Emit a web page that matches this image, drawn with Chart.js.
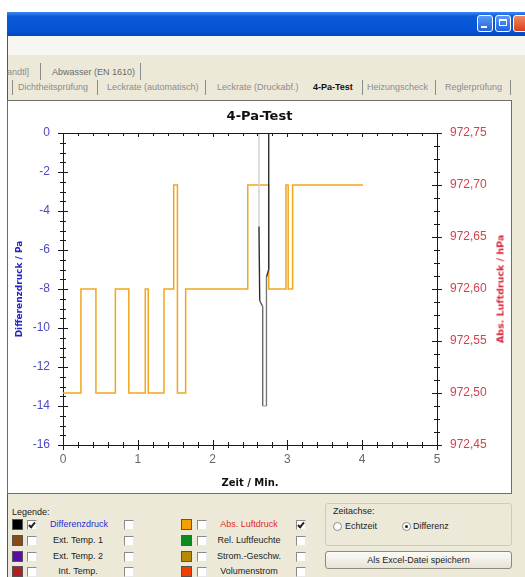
<!DOCTYPE html>
<html>
<head>
<meta charset="utf-8">
<script src="https://cdn.jsdelivr.net/npm/chart.js@4.4.1/dist/chart.umd.min.js"></script>
<style>
  body { margin: 0; width: 525px; height: 577px; overflow: hidden; background: #fff; position: relative;
         font-family: "Liberation Sans", Arial, sans-serif; }
  .abs { position: absolute; }
  .win { left: 7px; top: 36px; width: 518px; height: 541px; background: #ece9d8; border-left: 1px solid #555; box-sizing: border-box; }
  .menu { left: 8px; top: 36px; width: 517px; height: 19px; background: #f7f6f1; }
  .titlebar { left: 7px; top: 12px; width: 518px; height: 24px;
              background: linear-gradient(to bottom, #3d8af2 0%, #0a5ad8 18%, #0653d6 80%, #0445b8 100%); }
  .tbtn { top: 15px; width: 16px; height: 17px; box-sizing: border-box; border: 1px solid #fff; border-radius: 3px;
          background: linear-gradient(to bottom, #5b9af8, #2462e0); }
  .tbtn.close { background: linear-gradient(to bottom, #f08a60, #d8401c); }
  .tab { font-size: 9px; color: #8c8c8c; white-space: nowrap; line-height: 11px; }
  .sep { width: 1px; background: #8a8a8a; }
  .panel { left: 7px; top: 100px; width: 505px; height: 394px; box-sizing: border-box; border: 1px solid #6e6e6e; background: #fff; }
  #wrap { left: 8px; top: 100px; width: 503px; height: 392px; }
  .rtitle { left: 500px; top: 289px; transform: translate(-50%, -50%) rotate(-90deg); white-space: nowrap;
            font: bold 9.5px "DejaVu Sans", sans-serif; color: #d8283a; }
  .lg { font-size: 9px; line-height: 13px; color: #222; white-space: nowrap; }
  .sw { width: 11px; height: 11px; box-sizing: border-box; border: 1px solid #555; }
  .cb { width: 10px; height: 10px; box-sizing: border-box; background: #fff; border: 1px solid; border-color: #8a8a8a #e8e8e8 #e8e8e8 #8a8a8a; }
  .cb.on::after { content: ""; position: absolute; left: 2px; top: 0px; width: 2px; height: 5px;
                  border: solid #222; border-width: 0 2px 2px 0; transform: rotate(40deg); }
  .rb { width: 9px; height: 9px; box-sizing: border-box; border-radius: 50%; border: 1px solid #8a8a8a; background: #fff; }
  .rb.on::after { content: ""; position: absolute; left: 2px; top: 2px; width: 3px; height: 3px; border-radius: 50%; background: #222; }
  .group { left: 325px; top: 503px; width: 187px; height: 43px; box-sizing: border-box; border: 1px solid #cfcbb8; border-radius: 3px; }
  .btn { left: 325px; top: 551px; width: 187px; height: 18px; box-sizing: border-box; border: 1px solid #8d8a7c; border-radius: 3px;
         background: linear-gradient(to bottom, #fbfbf8, #e6e3d6); font-size: 9px; line-height: 16px; text-align: center; color: #222; }
</style>
</head>
<body>
<div class="abs win"></div>
<div class="abs menu"></div>
<div class="abs titlebar"></div>
<div class="abs tbtn" style="left:477px"><div class="abs" style="left:3px;top:10px;width:6px;height:2px;background:#fff"></div></div>
<div class="abs tbtn" style="left:495px"><div class="abs" style="left:3px;top:3px;width:8px;height:7px;box-sizing:border-box;border:1px solid #fff;border-top-width:2px"></div></div>
<div class="abs tbtn close" style="left:513px"></div>

<!-- Registerkarten -->
<div class="abs tab" style="left:7px;top:67px">andtl]</div>
<div class="abs sep" style="left:40px;top:63px;height:17px"></div>
<div class="abs tab" style="left:52px;top:67px;color:#6a6a6a">Abwasser (EN 1610)</div>
<div class="abs sep" style="left:140px;top:63px;height:17px"></div>

<div class="abs sep" style="left:12px;top:80px;height:15px"></div>
<div class="abs tab" style="left:18px;top:82px">Dichtheitsprüfung</div>
<div class="abs sep" style="left:97px;top:80px;height:15px"></div>
<div class="abs tab" style="left:107px;top:82px">Leckrate (automatisch)</div>
<div class="abs sep" style="left:205px;top:80px;height:15px"></div>
<div class="abs tab" style="left:217px;top:82px">Leckrate (Druckabf.)</div>
<div class="abs tab" style="left:313px;top:82px;color:#111;font-weight:bold">4-Pa-Test</div>
<div class="abs sep" style="left:362px;top:80px;height:15px"></div>
<div class="abs tab" style="left:367px;top:82px">Heizungscheck</div>
<div class="abs sep" style="left:435px;top:80px;height:15px"></div>
<div class="abs tab" style="left:445px;top:82px">Reglerprüfung</div>
<div class="abs sep" style="left:510px;top:80px;height:15px"></div>

<div class="abs panel"></div>
<div class="abs" id="wrap"><canvas id="chart" width="503" height="392"></canvas></div>
<div class="abs rtitle">Abs. Luftdruck / hPa</div>

<!-- Legende -->
<div class="abs lg" style="left:12px;top:506px">Legende:</div>

<div class="abs sw" style="left:12px;top:519px;background:#000"></div>
<div class="abs cb on" style="left:27px;top:520px"></div>
<div class="abs lg" style="left:40px;top:518px;width:78px;text-align:center;color:#2b2bd6">Differenzdruck</div>
<div class="abs cb" style="left:124px;top:520px"></div>

<div class="abs sw" style="left:12px;top:535px;background:#8b4a14"></div>
<div class="abs cb" style="left:27px;top:536px"></div>
<div class="abs lg" style="left:40px;top:534px;width:76px;text-align:center">Ext. Temp. 1</div>
<div class="abs cb" style="left:124px;top:536px"></div>

<div class="abs sw" style="left:12px;top:551px;background:#5b0fa6"></div>
<div class="abs cb" style="left:27px;top:552px"></div>
<div class="abs lg" style="left:40px;top:550px;width:76px;text-align:center">Ext. Temp. 2</div>
<div class="abs cb" style="left:124px;top:552px"></div>

<div class="abs sw" style="left:12px;top:566px;background:#b02020"></div>
<div class="abs cb" style="left:27px;top:567px"></div>
<div class="abs lg" style="left:40px;top:565px;width:76px;text-align:center">Int. Temp.</div>
<div class="abs cb" style="left:124px;top:567px"></div>

<div class="abs sw" style="left:181px;top:519px;background:#f5a000"></div>
<div class="abs cb" style="left:197px;top:520px"></div>
<div class="abs lg" style="left:210px;top:518px;width:78px;text-align:center;color:#e02a2a">Abs. Luftdruck</div>
<div class="abs cb on" style="left:296px;top:520px"></div>

<div class="abs sw" style="left:181px;top:535px;background:#0b8a1e"></div>
<div class="abs cb" style="left:197px;top:536px"></div>
<div class="abs lg" style="left:210px;top:534px;width:78px;text-align:center">Rel. Luftfeuchte</div>
<div class="abs cb" style="left:296px;top:536px"></div>

<div class="abs sw" style="left:181px;top:551px;background:#b88a00"></div>
<div class="abs cb" style="left:197px;top:552px"></div>
<div class="abs lg" style="left:210px;top:550px;width:78px;text-align:center">Strom.-Geschw.</div>
<div class="abs cb" style="left:296px;top:552px"></div>

<div class="abs sw" style="left:181px;top:566px;background:#f04000"></div>
<div class="abs cb" style="left:197px;top:567px"></div>
<div class="abs lg" style="left:210px;top:565px;width:78px;text-align:center">Volumenstrom</div>
<div class="abs cb" style="left:296px;top:567px"></div>

<!-- Zeitachse -->
<div class="abs group"></div>
<div class="abs lg" style="left:333px;top:505px">Zeitachse:</div>
<div class="abs rb" style="left:333px;top:522px"></div>
<div class="abs lg" style="left:345px;top:520px">Echtzeit</div>
<div class="abs rb on" style="left:402px;top:522px"></div>
<div class="abs lg" style="left:413px;top:520px">Differenz</div>
<div class="abs btn">Als Excel-Datei speichern</div>

<script>
// Achsen
const timeTicks = [0, 1, 2, 3, 4, 5];
const diffTicks = [0, -2, -4, -6, -8, -10, -12, -14, -16];
const luftTicks = [972.45, 972.50, 972.55, 972.60, 972.65, 972.70, 972.75];

// Abs. Luftdruck (hPa) - Wert gilt ab dem jeweiligen Zeitpunkt (Min.)
const luftTime   = [0.00, 0.24, 0.44, 0.70, 0.88, 1.10, 1.14, 1.35, 1.48, 1.53, 1.64, 2.47, 2.75, 2.98, 3.01, 3.07, 4.01];
const luftValues = [972.50, 972.60, 972.50, 972.60, 972.50, 972.60, 972.50, 972.60, 972.70, 972.50, 972.60, 972.70, 972.60, 972.70, 972.60, 972.70, 972.70];

// Differenzdruck (Pa)
const diffTime   = [2.62, 2.62, 2.63, 2.67, 2.67, 2.72, 2.72, 2.75, 2.75];
const diffValues = [0, -4.8, -8.6, -8.9, -14.0, -14.0, -7.4, -7.0, 0];

// Graustufen der einzelnen Abschnitte
const diffShades = ['#d2d2d2', '#2e2e2e', '#555', '#6a6a6a', '#b4b4b4', '#7a7a7a', '#3a3a3a', '#2e2e2e'];

const toPoints = (xs, ys) => xs.map((t, i) => ({ x: t, y: ys[i] }));

// Teilstriche quer zur Achse + obere Begrenzung
const axisMarks = {
  id: 'axisMarks',
  afterDraw(chart) {
    const { ctx, chartArea: a } = chart;
    const { x, y, y1 } = chart.scales;
    const line = (x1, y1_, x2, y2) => { ctx.beginPath(); ctx.moveTo(x1, y1_); ctx.lineTo(x2, y2); ctx.stroke(); };
    ctx.save();
    ctx.strokeStyle = '#1a1a1a';
    ctx.lineWidth = 1;

    line(a.left, a.top + 0.5, a.right, a.top + 0.5);

    // Zeitachse: 0.2 Min.
    const nx = Math.round((x.max - x.min) / 0.2);
    for (let i = 0; i <= nx; i++) {
      const px = Math.round(x.getPixelForValue(x.min + i * 0.2)) + 0.5;
      const major = i % 5 === 0;
      const l = major ? 5 : 3;
      line(px, a.bottom - l, px, a.bottom + l);
      line(px, a.top, px, a.top + (major ? 4 : 3));
    }

    // Differenzdruck: 0.5 Pa
    const ny = Math.round((y.max - y.min) / 0.5);
    for (let i = 0; i <= ny; i++) {
      const py = Math.round(y.getPixelForValue(y.min + i * 0.5)) + 0.5;
      const l = i % 4 === 0 ? 5 : 3;
      line(a.left - l, py, a.left + l, py);
    }

    // Luftdruck: 0.0125 hPa
    const n1 = Math.round((y1.max - y1.min) / 0.0125);
    for (let i = 0; i <= n1; i++) {
      const py = Math.round(y1.getPixelForValue(y1.min + i * 0.0125)) + 0.5;
      const l = i % 4 === 0 ? 5 : 3;
      line(a.right - l, py, a.right + l, py);
    }
    ctx.restore();
  }
};

const tickFont = { family: '"Liberation Sans", Arial, sans-serif', size: 12 };

new Chart(document.getElementById('chart'), {
  type: 'line',
  data: {
    datasets: [
      {
        label: 'Differenzdruck',
        data: toPoints(diffTime, diffValues),
        yAxisID: 'y',
        borderColor: '#2e2e2e',
        borderWidth: 1.4,
        pointRadius: 0,
        segment: { borderColor: c => diffShades[c.p0DataIndex] }
      },
      {
        label: 'Abs. Luftdruck',
        data: toPoints(luftTime, luftValues),
        yAxisID: 'y1',
        stepped: 'before',
        borderColor: '#f2a51e',
        borderWidth: 1.5,
        pointRadius: 0
      }
    ]
  },
  options: {
    responsive: false,
    animation: false,
    devicePixelRatio: 1,
    layout: { padding: 0 },
    plugins: {
      legend: { display: false },
      tooltip: { enabled: false },
      title: {
        display: true,
        text: '4-Pa-Test',
        color: '#111',
        font: { family: '"DejaVu Sans", sans-serif', size: 13, weight: 'bold' },
        padding: { top: 9, bottom: 8.4 }
      }
    },
    scales: {
      x: {
        type: 'linear',
        position: 'bottom',
        min: 0, max: 5,
        afterBuildTicks: s => { s.ticks = timeTicks.map(v => ({ value: v })); },
        afterFit: s => { s.height = 47; },
        ticks: { color: '#666', font: tickFont, padding: 3, callback: v => String(v) },
        grid: { drawOnChartArea: false, tickLength: 4, tickColor: 'transparent' },
        border: { color: '#1a1a1a', width: 1 },
        title: {
          display: true, text: 'Zeit / Min.', color: '#111',
          font: { family: '"DejaVu Sans", sans-serif', size: 10, weight: 'bold' },
          padding: { top: 0, bottom: 3 }
        }
      },
      y: {
        position: 'left',
        min: -16, max: 0,
        afterBuildTicks: s => { s.ticks = diffTicks.map(v => ({ value: v })); },
        afterFit: s => { s.width = 55; },
        ticks: { color: '#4b4bc0', font: tickFont, padding: 5, callback: v => String(v) },
        grid: { drawOnChartArea: false, tickLength: 8, tickColor: 'transparent' },
        border: { color: '#1a1a1a', width: 1 },
        title: {
          display: true, text: 'Differenzdruck / Pa', color: '#2424c8',
          font: { family: '"DejaVu Sans", sans-serif', size: 9, weight: 'bold' },
          padding: { top: 6, bottom: 0 }
        }
      },
      y1: {
        position: 'right',
        min: 972.45, max: 972.75,
        afterBuildTicks: s => { s.ticks = luftTicks.map(v => ({ value: v })); },
        afterFit: s => { s.width = 74; },
        ticks: { color: '#d2424e', font: tickFont, padding: 5, callback: v => v.toFixed(2).replace('.', ',') },
        grid: { drawOnChartArea: false, tickLength: 8, tickColor: 'transparent' },
        border: { color: '#1a1a1a', width: 1 }
      }
    }
  },
  plugins: [axisMarks]
});
</script>
</body>
</html>
